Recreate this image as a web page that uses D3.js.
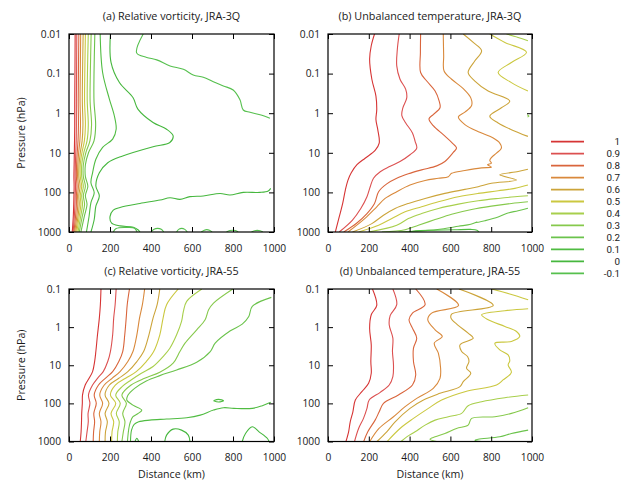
<!DOCTYPE html>
<html><head><meta charset="utf-8">
<script src="https://cdn.jsdelivr.net/npm/d3@7/dist/d3.min.js"></script>
<style>
body{margin:0;background:#fff;}
text{font-family:"Open Sans","Noto Sans",sans-serif;fill:#1a1a1a;}
</style></head><body>
<svg id="chart" width="632" height="484"></svg>
<script>
// ---------------- data ----------------
const levels = [1, 0.9, 0.8, 0.7, 0.6, 0.5, 0.4, 0.3, 0.2, 0.1, 0, -0.1];
const levelColors = ["#d63434","#dc5050","#d9653c","#d9893c","#cca43a","#cbc840","#a8cf4c","#86c94c","#6bc34c","#50bc42","#46b73e","#56c04e"];
const distTicks = [0, 200, 400, 600, 800, 1000];
const pTicksTop = [0.01, 0.1, 1, 10, 100, 1000];
const pTicksBottom = [0.1, 1, 10, 100, 1000];
const panelTitles = ["(a) Relative vorticity, JRA-3Q", "(b) Unbalanced temperature, JRA-3Q",
                     "(c) Relative vorticity, JRA-55", "(d) Unbalanced temperature, JRA-55"];

// contour segments: [level, [[distance km, pressure hPa], ...]]
const vortJRA3Q = [
 [1,  [[30,0.01],[29,0.1],[28,0.5],[28,2],[27,5],[26,10],[25,20],[24,40],[25,70],[24,120],[23,200],[21,400],[16,1000]]],
 [0.9,[[38,0.01],[37,0.1],[36,0.5],[36,2],[35,5],[33,10],[31,20],[30,40],[32,70],[30,120],[29,200],[26,400],[20,1000]]],
 [0.8,[[48,0.01],[46,0.1],[45,0.5],[46,2],[44,5],[40,10],[37,20],[36,40],[39,70],[36,120],[36,200],[32,400],[24,1000]]],
 [0.7,[[57,0.01],[55,0.1],[54,0.5],[56,2],[53,5],[47,10],[43,20],[42,40],[46,70],[42,120],[43,200],[38,400],[28,1000]]],
 [0.6,[[69,0.01],[66,0.1],[65,0.5],[68,2],[64,5],[55,10],[49,20],[48,40],[54,70],[48,120],[50,200],[44,400],[33,1000]]],
 [0.5,[[80,0.01],[77,0.1],[76,0.5],[80,2],[75,5],[63,10],[55,20],[55,40],[62,70],[55,120],[58,200],[50,400],[38,1000]]],
 [0.4,[[94,0.01],[90,0.1],[89,0.5],[94,2],[88,5],[72,10],[62,20],[62,40],[70,70],[62,120],[66,200],[57,400],[44,1000]]],
 [0.3,[[108,0.01],[104,0.1],[103,0.5],[110,2],[102,5],[82,10],[70,20],[70,40],[80,70],[70,120],[76,200],[65,400],[50,1000]]],
 [0.2,[[126,0.01],[122,0.1],[122,0.5],[130,2],[122,5],[95,10],[80,20],[80,40],[92,70],[80,120],[88,200],[75,400],[58,1000]]],
 [0.1,[[152,0.01],[164,0.094],[197,0.44],[221,1.16],[230,2.54],[213,4.5],[164,7.3],[131,14.5],[115,32],[107,57],[123,102],[107,180],[98,400],[85,1000]]],
 [0,  [[202,0.01],[205,0.052],[246,0.168],[312,0.4],[336,0.79],[410,1.72],[476,2.54],[508,3.75],[492,5.5],[410,7],[262,12],[189,17.8],[148,32],[131,69],[148,123],[131,222],[123,483],[107,1000]]],
 [-0.1,[[362,0.01],[330,0.03],[379,0.039],[428,0.045],[493,0.064],[558,0.078],[606,0.108],[655,0.124],[704,0.16],[753,0.205],[801,0.26],[834,0.46],[850,0.83],[883,0.95],[932,1.1],[980,1.34]]],
 [0,  [[984,79],[972,92],[932,100],[850,100],[785,116],[737,107],[655,123],[590,128],[541,150],[493,136],[444,156],[346,190],[249,240],[216,280],[200,410],[208,600],[249,700],[314,760],[338,890],[346,1000]]],
 [-0.1,[[216,1000],[230,820],[275,770],[320,800],[332,1000]]],
 [-0.1,[[400,1000],[415,850],[432,810],[450,850],[462,1000]]],
 [-0.1,[[525,1000],[535,860],[550,810],[565,860],[577,1000]]],
 [-0.1,[[645,1000],[660,900],[672,870],[685,900],[698,1000]]],
 [-0.1,[[768,1000],[785,920],[797,900],[812,920],[825,1000]]],
 [-0.1,[[890,1000],[905,930],[918,910],[932,930],[946,1000]]]
];

const tempJRA3Q = [
 [1,  [[228,0.01],[212,0.0198],[204,0.043],[215,0.139],[235,0.37],[239,0.81],[235,1.45],[244,2.6],[251,5.7],[231,8.7],[182,13.7],[142,20],[114,32],[98,49],[85,87],[72,190],[55,416],[36,1000]]],
 [0.9,[[349,0.01],[340,0.024],[337,0.064],[353,0.139],[381,0.25],[386,0.41],[367,0.73],[362,1.15],[381,1.76],[414,3.16],[427,5.15],[435,7.6],[402,11.2],[353,16.6],[305,22],[256,30],[223,44],[207,72],[191,129],[160,260],[120,500],[55,1000]]],
 [0.8,[[454,0.01],[453,0.029],[454,0.094],[484,0.154],[525,0.276],[545,0.495],[549,0.73],[516,1.08],[495,1.39],[516,2.06],[565,3.49],[606,5.46],[630,7.6],[614,9.8],[573,16.6],[533,21.4],[459,27],[394,34],[337,44],[288,61],[248,96],[228,190],[191,342],[140,600],[77,1000]]],
 [0.7,[[565,0.01],[567,0.036],[569,0.086],[606,0.139],[663,0.24],[700,0.41],[704,0.64],[671,0.94],[639,1.24],[671,1.94],[744,3.04],[810,4.24],[842,5.7],[850,7.6],[826,10.2],[801,13.2],[793,15.7],[801,18.3],[782,20],[801,23],[753,24],[671,28],[606,33],[590,40],[541,44],[476,50],[402,65],[337,96],[280,142],[239,231],[180,460],[98,1000]]],
 [0.6,[[663,0.01],[712,0.0163],[753,0.0265],[720,0.0476],[687,0.094],[720,0.154],[785,0.276],[891,0.495],[850,0.73],[793,1.19],[834,1.76],[899,2.6],[980,3.85]]],
 [0.6,[[980,26],[932,29.8],[842,36],[924,48.6],[801,59],[736,72],[671,84],[573,106],[476,142],[394,190],[329,255],[272,377],[215,614],[120,1000]]],
 [0.5,[[793,0.01],[867,0.0163],[973,0.029],[899,0.0525],[834,0.094],[899,0.169],[980,0.276]]],
 [0.5,[[980,65],[916,79],[834,91],[736,106],[639,129],[541,173],[459,231],[378,310],[313,458],[248,677],[150,1000]]],
 [0.4,[[875,0.01],[932,0.0122],[980,0.0148]]],
 [0.4,[[980,122],[916,129],[834,142],[736,163],[639,198],[541,255],[459,342],[394,458],[337,677],[199,1000]]],
 [0.3,[[976,1.1],[985,1.18],[978,1.25]]],
 [0.3,[[980,173],[899,190],[801,222],[704,270],[606,356],[525,486],[443,677],[378,873],[264,1000]]],
 [0.2,[[980,250],[932,290],[875,340],[834,420],[769,520],[720,590],[730,560],[700,640],[639,718],[557,839],[476,925],[345,1000]]],
 [0.1,[[400,1000],[430,930],[520,900],[620,880],[700,860],[730,900],[740,1000]]]
];

const vortJRA55 = [
 [1,  [[156,0.1],[153,0.258],[148,0.58],[139,1.59],[131,4.37],[125,8],[115,14.7],[98,22],[79,33],[66,60],[65,100],[62,183],[61,304],[59,557],[55,1000]]],
 [0.9,[[230,0.1],[225,0.258],[218,0.58],[213,1.59],[202,4.37],[189,8],[167,14.7],[139,22],[115,33],[95,60],[102,100],[93,183],[94,304],[88,557],[82,1000]]],
 [0.8,[[295,0.1],[284,0.258],[279,0.58],[272,1.59],[262,4.37],[243,8],[213,14.7],[177,22],[144,33],[123,60],[133,100],[121,183],[125,304],[120,557],[118,1000]]],
 [0.7,[[369,0.1],[358,0.258],[344,0.58],[331,1.59],[312,4.37],[287,8],[249,14.7],[210,22],[172,33],[150,60],[164,100],[148,183],[156,304],[150,557],[148,1000]]],
 [0.6,[[443,0.1],[430,0.258],[410,0.58],[390,1.59],[364,4.37],[331,8],[287,14.7],[243,22],[197,33],[176,60],[195,100],[176,183],[187,304],[178,557],[176,1000]]],
 [0.5,[[533,0.1],[476,0.258],[459,0.58],[443,1.59],[413,4.37],[377,8],[328,14.7],[276,22],[226,33],[202,60],[228,100],[205,183],[218,304],[210,557],[208,1000]]],
 [0.4,[[648,0.1],[574,0.211],[558,0.387],[549,0.709],[525,1.59],[492,3.57],[459,5.91],[410,10.8],[353,16.2],[303,24.3],[259,36.4],[228,60.4],[250,100],[231,183],[245,304],[238,557],[236,1000]]],
 [0.3,[[799,0.1],[705,0.234],[681,0.35],[664,0.641],[623,1.18],[566,2.64],[541,4.37],[508,8.85],[443,15.3],[369,22],[303,33],[258,60.4],[280,100],[262,183],[273,304],[265,557],[258,1000]]],
 [0.2,[[987,0.166],[894,0.286],[877,0.524],[845,0.834],[787,1.25],[713,2.64],[689,4.37],[623,8.34],[525,13.3],[443,18.7],[377,25.8],[320,40.3],[288,60.4],[282,81.7],[312,111],[355,150],[335,187],[312,224],[300,300],[292,450],[285,1000]]],
 [0.1,[[984,94],[943,115],[894,135],[804,135],[754,130],[705,150],[640,203],[574,238],[476,258],[394,275],[340,304],[318,357],[305,503],[300,1000]]],
 [0.1,[[705,85],[730,78.5],[754,85],[730,92],[705,85]]],
 [0,  [[467,1000],[476,681],[508,473],[549,503],[582,681],[590,1000]]],
 [0,  [[845,1000],[861,616],[894,411],[927,557],[968,834],[976,1000]]],
 [0,  [[322,1000],[331,820],[340,1000]]]
];

const tempJRA55 = [
 [1,  [[218,0.1],[239,0.269],[212,0.473],[204,1.06],[212,2.92],[210,8.01],[212,16.2],[199,29.8],[166,49.3],[134,81.7],[122,166],[109,304],[101,557],[88,1000]]],
 [0.9,[[318,0.1],[337,0.258],[305,0.493],[300,0.869],[318,1.95],[316,4.37],[321,9.8],[318,19.9],[300,33],[256,51.4],[202,81.7],[191,135],[174,248],[150,455],[130,1000]]],
 [0.8,[[430,0.1],[476,0.258],[414,0.428],[397,0.641],[414,1.06],[435,1.95],[419,3.57],[419,8.01],[430,18],[414,33],[345,60.4],[272,100],[251,166],[231,275],[195,557],[175,1000]]],
 [0.7,[[533,0.1],[640,0.269],[508,0.428],[489,0.641],[525,1.18],[560,1.76],[521,2.64],[541,4.83],[552,12],[549,22],[516,40.3],[435,73.8],[378,122],[321,224],[250,455],[205,1000]]],
 [0.6,[[642,0.1],[810,0.269],[606,0.455],[603,0.58],[635,0.869],[687,1.44],[712,1.95],[647,2.92],[655,4.37],[684,5.91],[691,8.01],[679,12],[700,16.2],[663,26.9],[647,36.4],[549,54.6],[468,81.7],[402,135],[329,304],[288,557],[240,1000]]],
 [0.5,[[801,0.1],[891,0.135],[981,0.191]]],
 [0.5,[[981,0.329],[867,0.372],[753,0.473],[785,0.641],[867,0.96],[924,1.3],[940,1.76],[899,2.38],[818,2.64],[842,3.95],[883,5.35],[891,7.69],[883,9.8],[899,15.3],[858,24.3],[826,33],[671,49.3],[557,81.7],[492,135],[419,248],[353,455],[290,1000]]],
 [0.4,[[981,60.4],[867,71],[753,90.3],[687,115],[655,183],[590,224],[525,275],[476,372],[427,557],[386,754],[358,1000]]],
 [0.3,[[981,130],[899,183],[818,224],[704,248],[687,372],[630,455],[573,616],[525,754],[500,869],[533,1000]]],
 [0.2,[[981,503],[899,616],[842,754],[736,869],[720,923],[753,1000]]]
];

// ---------------- drawing ----------------
const svg = d3.select("#chart");
const color = d3.scaleOrdinal().domain(levels).range(levelColors);

const panels = [
 {data: vortJRA3Q, title: panelTitles[0], x0: 69,  x1: 274, y0: 34,  y1: 232,   pDom: [0.01,1000], pTicks: pTicksTop,    ylab: true,  xlab: false},
 {data: tempJRA3Q, title: panelTitles[1], x0: 328, x1: 532, y0: 34,  y1: 232,   pDom: [0.01,1000], pTicks: pTicksTop,    ylab: false, xlab: false},
 {data: vortJRA55, title: panelTitles[2], x0: 69,  x1: 274, y0: 289, y1: 441.5, pDom: [0.1,1000],  pTicks: pTicksBottom, ylab: true,  xlab: true},
 {data: tempJRA55, title: panelTitles[3], x0: 328, x1: 532, y0: 289, y1: 441.5, pDom: [0.1,1000],  pTicks: pTicksBottom, ylab: false, xlab: true}
];

panels.forEach((P, i) => {
  const x = d3.scaleLinear().domain([0, 1000]).range([P.x0, P.x1]);
  const y = d3.scaleLog().domain(P.pDom).range([P.y0, P.y1]);
  const g = svg.append("g");
  const cid = "clip" + i;
  g.append("clipPath").attr("id", cid).append("rect")
    .attr("x", P.x0).attr("y", P.y0).attr("width", P.x1 - P.x0).attr("height", P.y1 - P.y0);

  const line = d3.line().x(d => x(d[0])).y(d => y(d[1])).curve(d3.curveCatmullRom.alpha(0.5));
  g.append("g").attr("clip-path", `url(#${cid})`)
    .selectAll("path").data(P.data).join("path")
    .attr("d", d => line(d[1]))
    .attr("fill", "none")
    .attr("stroke", d => color(d[0]))
    .attr("stroke-width", 1.1)
    .attr("stroke-linejoin", "round");

  // axes with inward ticks, mirrored on top/right
  const fmt = d => String(d);
  const left = d3.axisLeft(y).tickValues(P.pTicks).tickFormat(fmt).tickSizeInner(-5).tickSizeOuter(0).tickPadding(8);
  const right = d3.axisRight(y).tickValues(P.pTicks).tickFormat("").tickSizeInner(-5).tickSizeOuter(0);
  const bottom = d3.axisBottom(x).tickValues(distTicks).tickFormat(fmt).tickSizeInner(-5).tickSizeOuter(0).tickPadding(12.5);
  const top = d3.axisTop(x).tickValues(distTicks).tickFormat("").tickSizeInner(-5).tickSizeOuter(0);

  const axes = [
    g.append("g").attr("transform", `translate(${P.x0},0)`).call(left),
    g.append("g").attr("transform", `translate(${P.x1},0)`).call(right),
    g.append("g").attr("transform", `translate(0,${P.y1})`).call(bottom),
    g.append("g").attr("transform", `translate(0,${P.y0})`).call(top)
  ];
  axes.forEach(a => {
    a.select(".domain").remove();
    a.selectAll("line").attr("stroke", "#000").attr("stroke-width", 1);
    a.selectAll("text").attr("font-size", 10.2).attr("fill", "#1a1a1a")
      .style("font-family", '"Open Sans","Noto Sans",sans-serif');
  });

  g.append("rect").attr("x", P.x0).attr("y", P.y0)
    .attr("width", P.x1 - P.x0).attr("height", P.y1 - P.y0)
    .attr("fill", "none").attr("stroke", "#000").attr("stroke-width", 1.2);

  g.append("text").attr("x", (P.x0 + P.x1) / 2).attr("y", P.y0 - 14)
    .attr("text-anchor", "middle").attr("font-size", 10.8).text(P.title);

  if (P.ylab) {
    g.append("text").attr("transform", `translate(25,${(P.y0 + P.y1) / 2}) rotate(-90)`)
      .attr("text-anchor", "middle").attr("font-size", 10.6).text("Pressure (hPa)");
  }
  if (P.xlab) {
    g.append("text").attr("x", (P.x0 + P.x1) / 2).attr("y", P.y1 + 36)
      .attr("text-anchor", "middle").attr("font-size", 10.6).text("Distance (km)");
  }
});

// legend
const ly = d3.scaleLinear().domain([0, levels.length - 1]).range([141.7, 273.3]);
const leg = svg.append("g");
levels.forEach((lv, i) => {
  leg.append("line").attr("x1", 551).attr("x2", 584).attr("y1", ly(i)).attr("y2", ly(i))
    .attr("stroke", color(lv)).attr("stroke-width", 1.8);
  leg.append("text").attr("x", 620).attr("y", ly(i)).attr("dy", "0.36em")
    .attr("text-anchor", "end").attr("font-size", 9.8)
    .style("font-family", 'Roboto,"Liberation Sans",sans-serif').text(String(lv));
});
</script>
</body></html>
